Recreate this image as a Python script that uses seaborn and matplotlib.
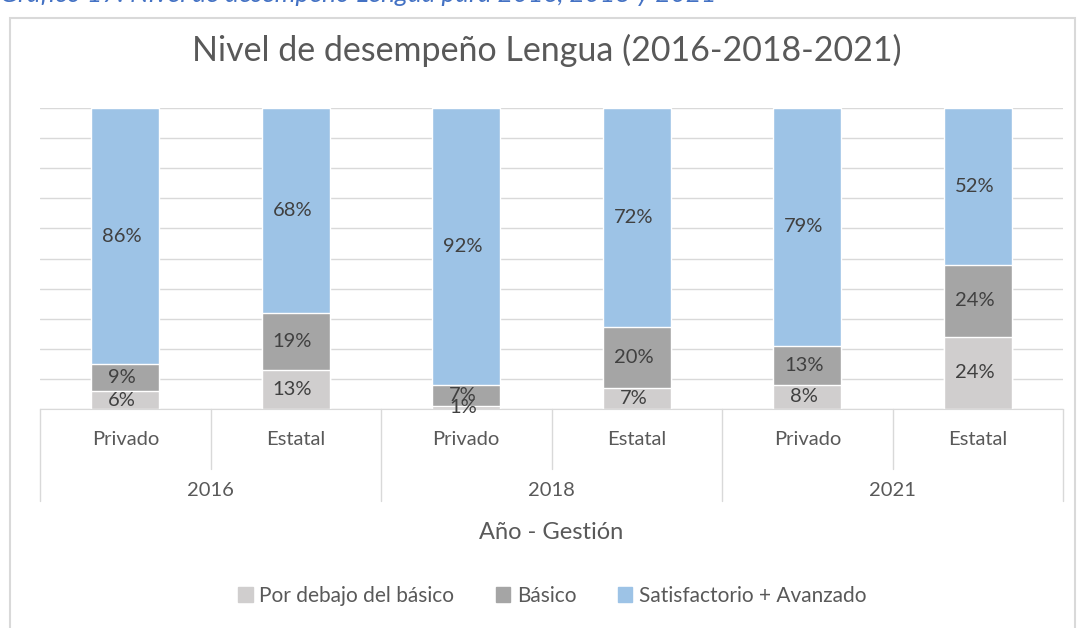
#! /usr/bin/env python3
'''
Nivel de desempeño Lengua - stacked 100% bars by year and gestión
'''

import matplotlib.pyplot as plt
import matplotlib.patches as mpatches
import matplotlib.transforms as mtransforms
import pandas as pd
import seaborn as sns

# data
YEARS = ['2016', '2018', '2021']
GESTION = ['Privado', 'Estatal']
POR_DEBAJO = [6, 13, 1, 7, 8, 24]
BASICO = [9, 19, 7, 20, 13, 24]
SATISF = [86, 68, 92, 72, 79, 52]
SERIES = ['Por debajo del básico', 'Básico', 'Satisfactorio + Avanzado']

# style
COLORS = ['#D0CECE', '#A5A5A5', '#9DC3E6']
TXT = '#595959'
LINE = '#D9D9D9'
FONT = 'Lato'

sns.set_style('white')
plt.rcParams['font.family'] = [FONT, 'DejaVu Sans']

# build table (100% stacked, like excel)
cats = [f'{y} {g}' for y in YEARS for g in GESTION]
df = pd.DataFrame({'cat': cats, 'below': POR_DEBAJO, 'basic': BASICO, 'sat': SATISF})
tot = df['below'] + df['basic'] + df['sat']
df['c1'] = df['below'] / tot * 100
df['c2'] = (df['below'] + df['basic']) / tot * 100
df['c3'] = 100.0

fig = plt.figure(figsize=(10.83, 6.28), dpi=100)
ax = fig.add_axes([40 / 1083, 1 - 409 / 628, 1023 / 1083, 301 / 628])

# draw from the top layer down so each shorter bar covers the one behind
for col, color in zip(['c3', 'c2', 'c1'], COLORS[::-1]):
    sns.barplot(data=df, x='cat', y=col, color=color, width=0.4, saturation=1,
                errorbar=None, ax=ax, zorder=2)

# value labels centred in each segment
for i, row in df.iterrows():
    segs = [(0, row['c1'], row['below']), (row['c1'], row['c2'], row['basic']),
            (row['c2'], row['c3'], row['sat'])]
    for lo, hi, v in segs:
        ax.text(i - 0.02, (lo + hi) / 2, f'{v}%', ha='center', va='center',
                fontsize=14.5, color='#404040', zorder=3)

ax.set_ylim(0, 100)
ax.set_xlim(-0.5, len(cats) - 0.5)
ax.set_yticks(range(0, 101, 10))
ax.set_yticklabels([])
ax.yaxis.grid(True, color=LINE, linewidth=1)
ax.set_axisbelow(True)
ax.tick_params(length=0)
for s in ['top', 'right', 'left']:
    ax.spines[s].set_visible(False)
ax.spines['bottom'].set_color(LINE)
ax.set_xlabel('')
ax.set_ylabel('')

# two-level category axis
ax.set_xticks(range(len(cats)))
ax.set_xticklabels(GESTION * len(YEARS), fontsize=14.5, color=TXT)
for t in ax.get_xticklabels():
    t.set_va('center')
ax.tick_params(axis='x', pad=22)
trans = mtransforms.blended_transform_factory(ax.transData, ax.transAxes)
for k in range(len(cats) + 1):
    x = k - 0.5
    y1 = -0.305 if k % 2 == 0 else -0.2
    ax.plot([x, x], [0, y1], color=LINE, lw=1, transform=trans, clip_on=False)
for j, yr in enumerate(YEARS):
    ax.text(2 * j + 0.5, -0.27, yr, transform=trans, ha='center', va='center',
            fontsize=14.5, color=TXT)

ax.text(0.5, -0.41, 'Año - Gestión', transform=ax.transAxes, ha='center',
        va='center', fontsize=17, color=TXT)

fig.text(0.505, 1 - 50 / 628, 'Nivel de desempeño Lengua (2016-2018-2021)',
         ha='center', va='center', fontsize=24.5, color=TXT)

# legend
handles = [mpatches.Patch(color=c, label=l) for c, l in zip(COLORS, SERIES)]
leg = fig.legend(handles=handles, loc='center', bbox_to_anchor=(0.51, 1 - 596 / 628),
                 ncol=3, frameon=False, fontsize=15, handlelength=0.7,
                 handleheight=0.7, handletextpad=0.3, columnspacing=2.0)
for t in leg.get_texts():
    t.set_color(TXT)

# chart frame and the cut-off caption above it
fig.patches.append(mpatches.Rectangle((10 / 1083, -0.05), 1065 / 1083, 1.05 - 18 / 628,
                                      transform=fig.transFigure, fill=False,
                                      edgecolor=LINE, linewidth=1.5))
fig.text(0.0, 1 - 1.5 / 628, 'Gráfico 17: Nivel de desempeño Lengua para 2016, 2018 y 2021',
         ha='left', va='baseline', fontsize=19, style='italic', color='#4472C4')

fig.savefig('out.png', dpi=100)
